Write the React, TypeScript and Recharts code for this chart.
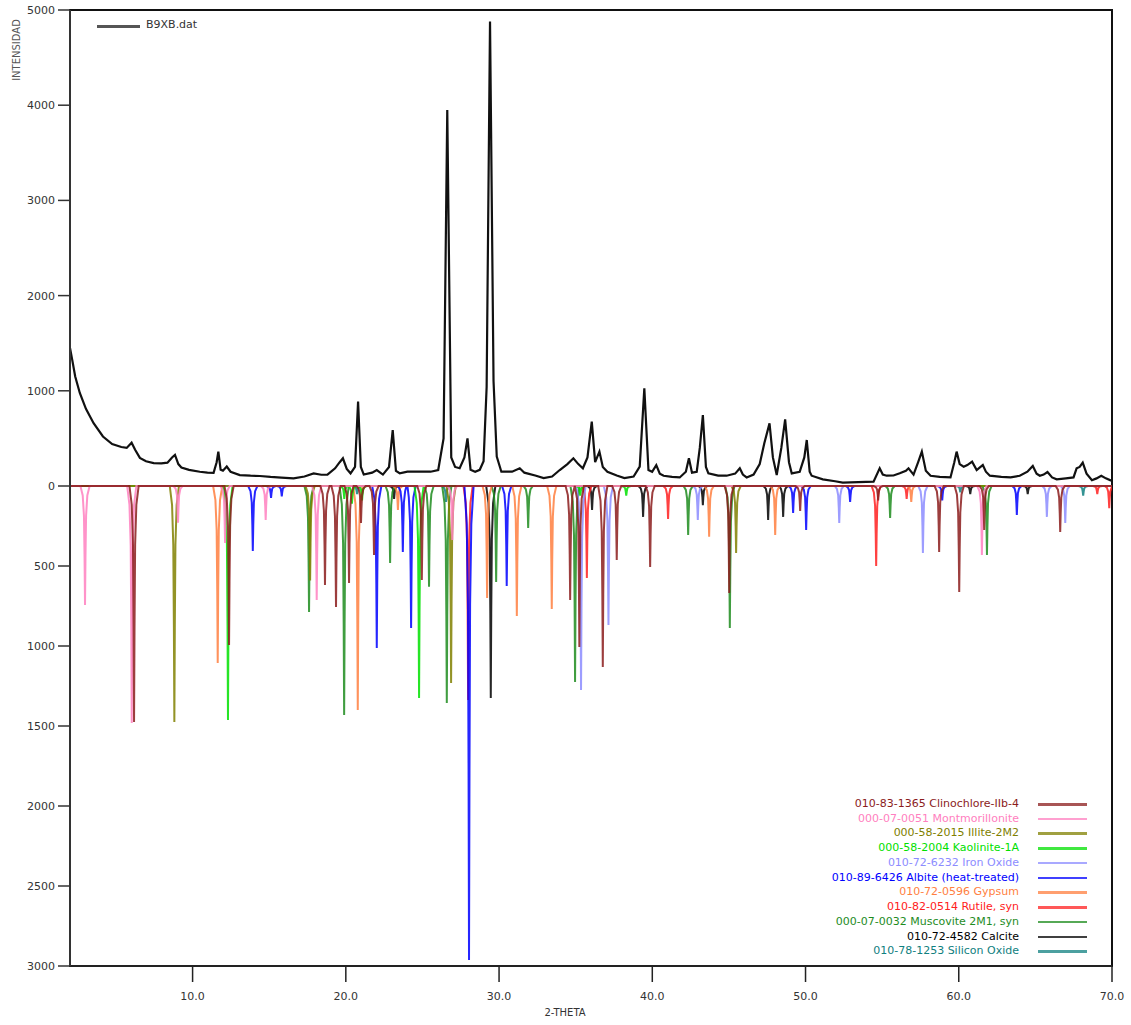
import { ComposedChart, Line, XAxis, YAxis, ReferenceArea } from "recharts"

// ── axes ─────────────────────────────────────────────
const X_MIN = 2
const X_MAX = 70
const X_TICKS = [10, 20, 30, 40, 50, 60, 70]
const UP_TICKS = [0, 1000, 2000, 3000, 4000, 5000]
const DOWN_TICKS = [500, 1000, 1500, 2000, 2500, 3000]
const UP_MAX = 5000
const DOWN_MAX = 3000
// upper half (0..5000) and lower half (0..3000) have different scales
const RATIO = (UP_MAX / 476) / (DOWN_MAX / 480)

// ── measured pattern B9XB.dat [2theta, counts] ────────
const B9XB: [number, number][] = [
  [2.0, 1450], [2.14, 1330], [2.34, 1150], [2.64, 977], [3.04, 810], [3.54, 660], [4.15, 520],
  [4.75, 440], [5.35, 410], [5.7, 400], [6.02, 455], [6.25, 380], [6.56, 295], [6.96, 260],
  [7.46, 241], [7.96, 238], [8.36, 245], [8.66, 300], [8.85, 326], [9.07, 230], [9.27, 195],
  [9.77, 170], [10.47, 150], [10.97, 140], [11.37, 138], [11.57, 250], [11.68, 361], [11.83, 170],
  [11.98, 160], [12.23, 205], [12.48, 150], [13.08, 115], [13.78, 108], [14.39, 105], [15.09, 95],
  [15.79, 88], [16.59, 80], [17.3, 100], [17.9, 133], [18.4, 118], [18.8, 120], [19.3, 186],
  [19.6, 250], [19.81, 291], [20.06, 180], [20.31, 133], [20.6, 200], [20.8, 886], [20.98, 200],
  [21.17, 120], [21.72, 140], [22.02, 168], [22.42, 120], [22.82, 200], [23.06, 588], [23.27, 160],
  [23.52, 133], [24.02, 150], [24.42, 150], [25.03, 150], [25.53, 150], [26.03, 168], [26.38, 500],
  [26.62, 3950], [26.88, 300], [27.13, 200], [27.43, 186], [27.74, 300], [27.94, 500], [28.14, 170],
  [28.44, 150], [28.74, 170], [28.99, 260], [29.19, 1043], [29.41, 4880], [29.64, 1100], [29.85, 308],
  [30.15, 150], [30.85, 150], [31.35, 186], [31.65, 140], [32.36, 110], [32.91, 84], [33.46, 100],
  [33.96, 168], [34.46, 230], [34.85, 291], [35.17, 230], [35.47, 186], [35.77, 300], [36.05, 676],
  [36.27, 250], [36.55, 361], [36.77, 200], [37.07, 150], [37.68, 110], [38.18, 84], [38.78, 100],
  [39.18, 203], [39.48, 1026], [39.75, 168], [39.99, 150], [40.26, 220], [40.49, 130], [40.74, 108],
  [41.29, 95], [41.79, 90], [42.19, 150], [42.39, 291], [42.59, 140], [42.9, 150], [43.1, 400],
  [43.3, 746], [43.5, 200], [43.66, 133], [44.3, 110], [44.85, 108], [45.41, 130], [45.71, 186],
  [45.91, 120], [46.16, 90], [46.61, 120], [47.01, 230], [47.31, 450], [47.65, 658], [47.87, 300],
  [48.12, 115], [48.42, 400], [48.67, 700], [48.92, 250], [49.1, 133], [49.62, 150], [49.92, 300],
  [50.08, 483], [50.27, 150], [50.4, 108], [51.13, 70], [51.93, 50], [52.43, 35], [53.44, 40],
  [54.44, 46], [54.84, 186], [55.04, 120], [55.3, 108], [55.74, 110], [56.15, 133], [56.55, 160],
  [56.72, 186], [57.05, 120], [57.35, 250], [57.59, 361], [57.85, 160], [58.16, 108], [58.76, 95],
  [59.46, 90], [59.71, 250], [59.86, 361], [60.06, 230], [60.32, 203], [60.56, 220], [60.87, 256],
  [61.17, 168], [61.42, 200], [61.57, 220], [61.77, 150], [62.03, 108], [62.78, 95], [63.38, 90],
  [63.98, 108], [64.48, 150], [64.83, 210], [65.08, 130], [65.29, 108], [65.54, 120], [65.79, 147],
  [66.09, 90], [66.39, 70], [66.99, 80], [67.49, 90], [67.69, 186], [67.89, 200], [68.09, 245],
  [68.34, 130], [68.69, 60], [68.99, 80], [69.3, 108], [69.6, 80], [69.9, 60], [70.0, 60],
]

// ── reference phases, peaks as [2theta, intensity] ─────
const CLINOCHLORE: [number, number][] = [
  [6.18, 1475], [12.38, 994], [18.64, 619], [19.36, 756], [20.21, 606], [20.99, 231], [21.84, 431],
  [24.96, 587], [34.64, 712], [35.24, 1006], [36.77, 1131], [37.68, 462], [39.86, 506], [45.02, 669],
  [49.65, 156], [54.74, 90], [58.72, 412], [60.03, 662], [61.66, 275], [66.62, 287],
]
const MONTMORILLONITE: [number, number][] = [
  [2.98, 744], [6.03, 1481], [9.05, 230], [12.12, 356], [14.77, 212], [18.1, 712], [26.95, 337], [61.51, 431],
]
const ILLITE: [number, number][] = [
  [8.81, 1475], [17.67, 590], [26.87, 1231], [45.47, 419],
]
const KAOLINITE: [number, number][] = [
  [12.31, 1462], [19.9, 80], [20.4, 110], [21.06, 90], [24.78, 1325], [35.3, 60], [38.3, 60],
]
const IRON_OXIDE: [number, number][] = [
  [35.35, 1275], [37.14, 869], [42.97, 212], [52.2, 231], [57.66, 419], [65.75, 193], [66.95, 231],
]
const ALBITE: [number, number][] = [
  [13.93, 406], [15.12, 75], [15.82, 65], [22.02, 1013], [23.72, 412], [24.26, 888], [28.04, 2962],
  [30.5, 625], [49.19, 169], [50.04, 275], [52.91, 100], [58.92, 90], [63.79, 181],
]
const GYPSUM: [number, number][] = [
  [11.64, 1106], [20.78, 1400], [23.4, 150], [29.22, 700], [31.16, 812], [33.44, 769], [43.71, 317],
  [48.02, 306], [56.9, 100],
]
const RUTILE: [number, number][] = [
  [27.98, 1337], [35.73, 575], [41.03, 206], [54.61, 500], [56.6, 80], [69.04, 50], [69.82, 138],
]
const MUSCOVITE: [number, number][] = [
  [17.6, 788], [19.89, 1431], [22.89, 481], [25.43, 630], [26.59, 1356], [29.81, 600], [31.9, 262],
  [34.96, 1225], [42.34, 306], [45.06, 888], [55.52, 200], [61.84, 431],
]
const CALCITE: [number, number][] = [
  [23.15, 80], [29.46, 1325], [36.07, 150], [39.4, 193], [43.3, 120], [47.56, 212], [48.54, 193],
  [60.75, 50], [64.5, 50],
]
const SILICON_OXIDE: [number, number][] = [
  [20.73, 50], [26.54, 100], [60.1, 40], [68.12, 60],
]

const PHASES = [
  { label: "010-83-1365 Clinochlore-IIb-4", color: "#8b1c1c", peaks: CLINOCHLORE },
  { label: "000-07-0051 Montmorillonite", color: "#ff80c0", peaks: MONTMORILLONITE },
  { label: "000-58-2015 Illite-2M2", color: "#808000", peaks: ILLITE },
  { label: "000-58-2004 Kaolinite-1A", color: "#00e000", peaks: KAOLINITE },
  { label: "010-72-6232 Iron Oxide", color: "#8c8cff", peaks: IRON_OXIDE },
  { label: "010-89-6426 Albite (heat-treated)", color: "#0000ff", peaks: ALBITE },
  { label: "010-72-0596 Gypsum", color: "#ff7f3f", peaks: GYPSUM },
  { label: "010-82-0514 Rutile, syn", color: "#ff2020", peaks: RUTILE },
  { label: "000-07-0032 Muscovite 2M1, syn", color: "#1e8c1e", peaks: MUSCOVITE },
  { label: "010-72-4582 Calcite", color: "#000000", peaks: CALCITE },
  { label: "010-78-1253 Silicon Oxide", color: "#108080", peaks: SILICON_OXIDE },
]

// peak glyph with a wide skirt: [offset in 2theta, fraction of height]
const PROFILE = [
  [-0.3, 0], [-0.15, 0.08], [-0.07, 0.25], [-0.03, 0.6], [0, 1],
  [0.03, 0.6], [0.07, 0.25], [0.15, 0.08], [0.3, 0],
]

function phaseLine(peaks: [number, number][]) {
  const pts = [{ x: X_MIN, y: 0 }, { x: X_MAX, y: 0 }]
  peaks.forEach(([p, h]) => PROFILE.forEach(([dx, f]) => pts.push({ x: p + dx, y: -h * f })))
  return pts.sort((a, b) => a.x - b.x)
}

const measured = B9XB.map(([x, y]) => ({ x, y }))
const mainTicks = [...UP_TICKS, ...DOWN_TICKS.map((v) => -v * RATIO)]
const FONT = "DejaVu Sans"
const tickStyle = { fill: "#333", fontSize: 11, fontFamily: FONT }

export default function App() {
  return (
    <div style={{ position: "absolute", left: 0, top: 0, width: 1131, height: 1025, background: "#fff" }}>
      <ComposedChart width={1131} height={1025} margin={{ top: 10, right: 19, bottom: 0, left: 10 }}>
        <XAxis
          dataKey="x"
          type="number"
          domain={[X_MIN, X_MAX]}
          allowDataOverflow
          ticks={X_TICKS}
          interval={0}
          tickFormatter={(v: number) => v.toFixed(1)}
          tick={tickStyle}
          tickSize={16}
          tickMargin={10}
          height={59}
          axisLine={{ stroke: "#222", strokeWidth: 2 }}
          tickLine={{ stroke: "#222", strokeWidth: 1.5 }}
          label={({ viewBox }: any) => (
            <text x={565} y={viewBox.y + 50} textAnchor="middle" fill="#333" fontSize={10} fontFamily={FONT}>
              2-THETA
            </text>
          )}
        />
        <YAxis
          yAxisId="main"
          type="number"
          domain={[-DOWN_MAX * RATIO, UP_MAX]}
          allowDataOverflow
          ticks={mainTicks}
          interval={0}
          tickFormatter={(t: number) => (t < 0 ? String(Math.round(-t / RATIO)) : String(t))}
          tick={tickStyle}
          tickSize={12}
          tickMargin={3}
          width={60}
          axisLine={{ stroke: "#333", strokeWidth: 2 }}
          tickLine={{ stroke: "#333", strokeWidth: 1.5 }}
          label={({ viewBox }: any) => (
            <text
              x={viewBox.x + 6}
              y={viewBox.y + 40}
              transform={`rotate(-90 ${viewBox.x + 6} ${viewBox.y + 40})`}
              textAnchor="middle"
              dominantBaseline="central"
              fill="#555"
              fontSize={10}
              fontFamily={FONT}
            >
              INTENSIDAD
            </text>
          )}
        />
        <YAxis yAxisId="phase" type="number" domain={[-DOWN_MAX, UP_MAX / RATIO]} allowDataOverflow hide />
        <ReferenceArea
          yAxisId="main"
          x1={X_MIN}
          x2={X_MAX}
          y1={-DOWN_MAX * RATIO}
          y2={UP_MAX}
          fill="none"
          stroke="#111"
          strokeWidth={2}
        />
        {[...PHASES].reverse().map((ph) => (
          <Line
            key={ph.label}
            yAxisId="phase"
            data={phaseLine(ph.peaks)}
            dataKey="y"
            type="linear"
            stroke={ph.color}
            strokeWidth={2}
            strokeOpacity={0.85}
            dot={false}
            activeDot={false}
            isAnimationActive={false}
          />
        ))}
        <Line
          yAxisId="main"
          data={measured}
          dataKey="y"
          type="linear"
          stroke="#111"
          strokeWidth={2.2}
          dot={false}
          activeDot={false}
          isAnimationActive={false}
        />
      </ComposedChart>

      <div style={{ position: "absolute", left: 97, top: 25, width: 43, height: 3, background: "#555" }} />
      <div style={{ position: "absolute", left: 146, top: 18, fontSize: 11, fontFamily: FONT, color: "#333" }}>B9XB.dat</div>

      {PHASES.map((ph, i) => (
        <div key={ph.label}>
          <div
            style={{
              position: "absolute",
              right: 1131 - 1019,
              top: 797 + i * 14.74,
              fontSize: 11,
              fontFamily: FONT,
              color: ph.color,
              whiteSpace: "nowrap",
            }}
          >
            {ph.label}
          </div>
          <div
            style={{
              position: "absolute",
              left: 1038,
              top: 803 + i * 14.74,
              width: 49,
              height: 2.5,
              background: ph.color,
              opacity: 0.75,
            }}
          />
        </div>
      ))}
    </div>
  )
}
